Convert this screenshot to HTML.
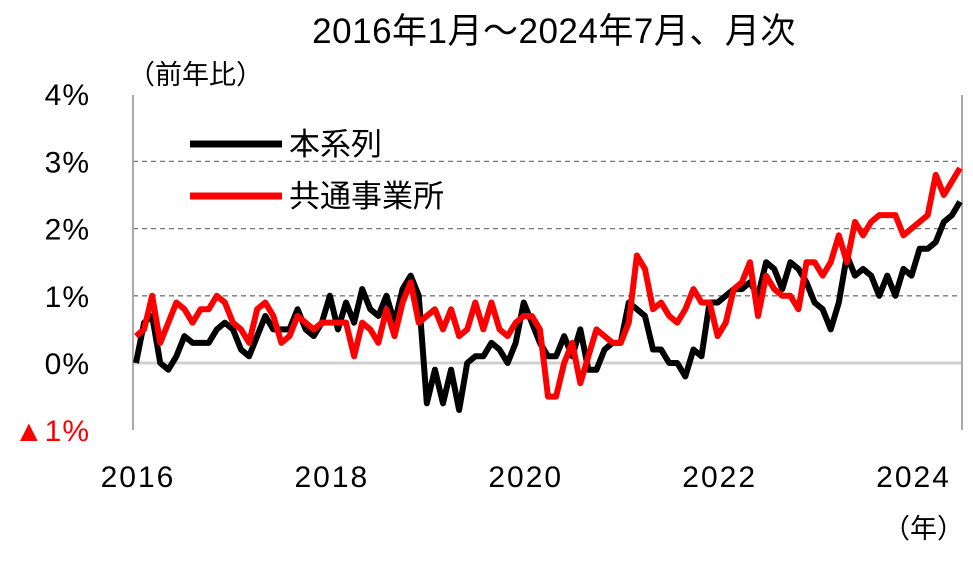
<!DOCTYPE html>
<html><head><meta charset="utf-8"><style>
body{margin:0;background:#fff;}
svg text{font-family:"Liberation Sans","Noto Sans CJK JP",sans-serif;}
</style></head><body>
<svg id="chart" width="973" height="560" viewBox="0 0 973 560" xmlns="http://www.w3.org/2000/svg">
<text x="554" y="43" font-size="35" text-anchor="middle" letter-spacing="0.5">2016年1月～2024年7月、月次</text>
<text x="128" y="84" font-size="27">（前年比）</text>
<text x="964" y="538" font-size="27" text-anchor="end">（年）</text>
<g id="grid"></g>
<line x1="133" y1="95" x2="133" y2="430" stroke="#aaa" stroke-width="2"/>
<line x1="962" y1="95" x2="962" y2="430" stroke="#aaa" stroke-width="2"/>
<g id="yticks"></g><g id="xticks"></g><g id="series"></g>
<g>
<line x1="190" y1="144" x2="282" y2="144" stroke="#000" stroke-width="7"/>
<text x="289" y="155" font-size="31">本系列</text>
<line x1="190" y1="196" x2="282" y2="196" stroke="#f00" stroke-width="7"/>
<text x="289" y="207" font-size="31">共通事業所</text>
</g>
</svg>
<script>
const yTicks=[4,3,2,1,0,-1];
const yTickLabels=["4%","3%","2%","1%","0%","▲1%"];
const xTickYears=[2016,2018,2020,2022,2024];
const honkeiretsu=[0.0,0.6,0.7,0.0,-0.1,0.1,0.4,0.3,0.3,0.3,0.5,0.6,
0.5,0.2,0.1,0.4,0.7,0.5,0.5,0.5,0.8,0.5,0.4,0.6,
1.0,0.5,0.9,0.6,1.1,0.8,0.7,1.0,0.6,1.1,1.3,1.0,
-0.6,-0.1,-0.6,-0.1,-0.7,0.0,0.1,0.1,0.3,0.2,0.0,0.3,
0.9,0.6,0.3,0.1,0.1,0.4,0.1,0.5,-0.1,-0.1,0.2,0.3,
0.3,0.9,0.8,0.7,0.2,0.2,0.0,0.0,-0.2,0.2,0.1,0.9,
0.9,1.0,1.1,1.1,1.2,1.0,1.5,1.4,1.1,1.5,1.4,1.2,
0.9,0.8,0.5,0.9,1.6,1.3,1.4,1.3,1.0,1.3,1.0,1.4,
1.3,1.7,1.7,1.8,2.1,2.2,2.4];
const kyotsu=[0.4,0.5,1.0,0.3,0.6,0.9,0.8,0.6,0.8,0.8,1.0,0.9,
0.6,0.5,0.3,0.8,0.9,0.7,0.3,0.4,0.7,0.6,0.5,0.6,
0.6,0.6,0.6,0.1,0.6,0.5,0.3,0.8,0.4,0.9,1.2,0.6,
0.7,0.8,0.5,0.8,0.4,0.5,0.9,0.5,0.9,0.5,0.4,0.6,
0.7,0.7,0.5,-0.5,-0.5,0.0,0.3,-0.3,0.1,0.5,0.4,0.3,
0.3,0.6,1.6,1.4,0.8,0.9,0.7,0.6,0.8,1.1,0.9,0.9,
0.4,0.6,1.1,1.2,1.5,0.7,1.3,1.1,1.0,1.0,0.8,1.5,
1.5,1.3,1.5,1.9,1.5,2.1,1.9,2.1,2.2,2.2,2.2,1.9,
2.0,2.1,2.2,2.8,2.5,2.7,2.9];
const NS="http://www.w3.org/2000/svg";
const x0=136,x1=960,nM=102;
function xScale(i){return x0+(x1-x0)*i/nM;}
function yScale(v){return 363-v*67.2;}
function mk(t,a,p){const e=document.createElementNS(NS,t);for(const k in a)e.setAttribute(k,a[k]);p.appendChild(e);return e;}
const grid=document.getElementById('grid'),yt=document.getElementById('yticks'),xt=document.getElementById('xticks'),sg=document.getElementById('series');
yTicks.forEach((v,i)=>{
  if(v>0&&v<4){const l=mk('line',{x1:133,x2:962,y1:yScale(v),y2:yScale(v),stroke:'#777','stroke-width':1.3,'stroke-dasharray':'5,4'},grid);
  
  }
  if(v===0){const l=mk('line',{x1:133,x2:962,y1:yScale(0),y2:yScale(0),stroke:'#d0d0d0','stroke-width':3},grid);
  
  }
  const t=mk('text',{x:90,y:yScale(v)+11,'font-size':30,'letter-spacing':1,'text-anchor':'end',fill:v<0?'#f00':'#000'},yt);
  t.textContent=yTickLabels[i];
  
  
});
xTickYears.forEach(y=>{
  const t=mk('text',{x:xScale((y-2016)*12)+2,y:487,'font-size':30,'letter-spacing':2,'text-anchor':'middle'},xt);
  t.textContent=y;
  
  
});
function line(data,color,name){
  const p=mk('polyline',{points:data.map((v,i)=>xScale(i)+','+yScale(v)).join(' '),fill:'none',stroke:color,'stroke-width':6,'stroke-linejoin':'round'},sg);
  
  
}
line(honkeiretsu,'#000','series-honkeiretsu');
line(kyotsu,'#f00','series-kyotsu-jigyosho');
</script>
</body></html>
